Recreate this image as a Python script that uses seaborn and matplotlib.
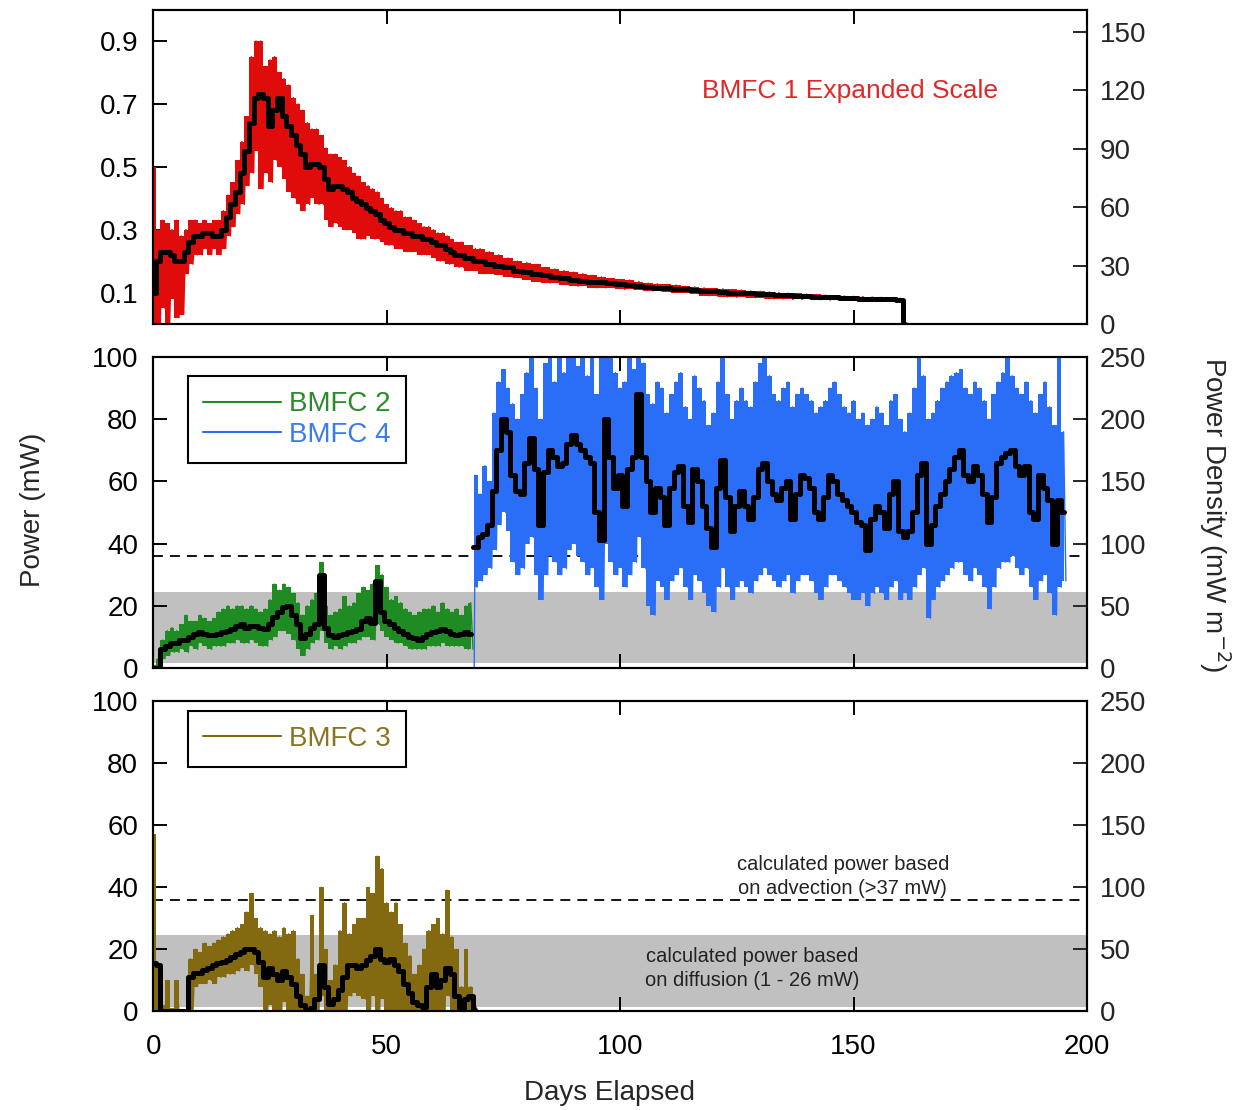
import numpy as np
import matplotlib.pyplot as plt
from matplotlib.lines import Line2D
import seaborn as sns

# ---------------- data ----------------
# BMFC 1 (top panel, mW) - daily to day 70, then every 2 days
bmfc1_day = list(range(0, 71)) + list(range(72, 161, 2)) + [161]
bmfc1_mean = [
    0.10, 0.20, 0.23, 0.23, 0.22, 0.20, 0.20, 0.23, 0.26, 0.28,
    0.28, 0.29, 0.29, 0.28, 0.28, 0.30, 0.34, 0.38, 0.42, 0.48,
    0.55, 0.64, 0.72, 0.73, 0.72, 0.63, 0.68, 0.72, 0.66, 0.63,
    0.60, 0.57, 0.54, 0.50, 0.51, 0.51, 0.50, 0.46, 0.43, 0.44,
    0.44, 0.43, 0.42, 0.40, 0.39, 0.38, 0.37, 0.36, 0.35, 0.33,
    0.32, 0.31, 0.30, 0.30, 0.29, 0.29, 0.28, 0.28, 0.27, 0.27,
    0.26, 0.25, 0.25, 0.24, 0.23, 0.22, 0.22, 0.21, 0.21, 0.20,
    0.20,
    0.19, 0.185, 0.18, 0.17, 0.165, 0.16, 0.155, 0.15, 0.145, 0.14,
    0.138, 0.135, 0.132, 0.13, 0.127, 0.125, 0.12, 0.118, 0.116, 0.114,
    0.112, 0.11, 0.108, 0.106, 0.104, 0.102, 0.10, 0.099, 0.097, 0.096,
    0.094, 0.093, 0.091, 0.09, 0.088, 0.087, 0.086, 0.085, 0.083, 0.082,
    0.081, 0.08, 0.079, 0.078, 0.077,
    0.0]
bmfc1_lo = [
    0.00, 0.00, 0.05, 0.00, 0.08, 0.02, 0.03, 0.16, 0.19, 0.22,
    0.22, 0.24, 0.22, 0.24, 0.22, 0.24, 0.28, 0.31, 0.35, 0.38,
    0.44, 0.48, 0.55, 0.43, 0.48, 0.45, 0.52, 0.50, 0.46, 0.42,
    0.40, 0.38, 0.36, 0.38, 0.40, 0.38, 0.38, 0.33, 0.31, 0.32,
    0.31, 0.30, 0.30, 0.29, 0.27, 0.27, 0.28, 0.27, 0.27, 0.26,
    0.25, 0.25, 0.24, 0.24, 0.23, 0.23, 0.23, 0.22, 0.22, 0.22,
    0.21, 0.20, 0.20, 0.19, 0.19, 0.18, 0.18, 0.17, 0.17, 0.17,
    0.16,
    0.16, 0.155, 0.15, 0.145, 0.14, 0.135, 0.13, 0.13, 0.125, 0.12,
    0.12, 0.115, 0.115, 0.115, 0.11, 0.11, 0.108, 0.105, 0.104, 0.102,
    0.10, 0.098, 0.095, 0.09, 0.088, 0.086, 0.085, 0.085, 0.083, 0.082,
    0.08, 0.08, 0.078, 0.078, 0.078, 0.077, 0.076, 0.076, 0.075, 0.074,
    0.073, 0.072, 0.072, 0.071, 0.07,
    0.0]
bmfc1_hi = [
    0.50, 0.30, 0.33, 0.32, 0.30, 0.33, 0.28, 0.30, 0.33, 0.33,
    0.32, 0.33, 0.32, 0.33, 0.33, 0.36, 0.41, 0.45, 0.52, 0.58,
    0.66, 0.85, 0.90, 0.90, 0.82, 0.84, 0.85, 0.80, 0.78, 0.76,
    0.72, 0.70, 0.68, 0.64, 0.62, 0.62, 0.60, 0.56, 0.54, 0.54,
    0.53, 0.52, 0.50, 0.48, 0.47, 0.45, 0.44, 0.43, 0.42, 0.40,
    0.38, 0.37, 0.36, 0.36, 0.34, 0.34, 0.33, 0.32, 0.31, 0.31,
    0.30, 0.29, 0.29, 0.28, 0.27, 0.26, 0.26, 0.25, 0.25, 0.24,
    0.24,
    0.23, 0.22, 0.21, 0.20, 0.195, 0.19, 0.18, 0.175, 0.17, 0.165,
    0.16, 0.155, 0.15, 0.145, 0.142, 0.14, 0.135, 0.13, 0.128, 0.126,
    0.124, 0.12, 0.118, 0.115, 0.113, 0.112, 0.11, 0.108, 0.105, 0.104,
    0.102, 0.10, 0.098, 0.097, 0.095, 0.094, 0.092, 0.09, 0.089, 0.088,
    0.087, 0.086, 0.085, 0.084, 0.082,
    0.0]

# BMFC 2 (middle panel, mW), days 0-68
bmfc2_day = list(range(0, 69))
bmfc2_mean = [
    0, 0, 6, 7, 8, 8, 9, 9, 10, 11,
    11.5, 11, 10.5, 10.5, 11, 11.5, 12, 12.5, 13.5, 14,
    13, 13.5, 13.5, 13, 12.5, 14, 16.5, 18, 19.5, 20,
    17, 14, 9.5, 11, 13, 14, 30, 13, 10.5, 10,
    10.5, 11, 11.5, 12, 12.5, 15, 16, 14.5, 28, 18,
    15, 14, 13, 12, 11, 10, 9.5, 9, 10, 11,
    11.5, 12, 12.5, 12, 11, 10.5, 11, 11.5, 11]
bmfc2_lo = [
    0, 0, 3, 4, 5, 5, 6, 5, 7, 6,
    8, 7, 6, 7, 7, 7, 8, 8, 9, 8,
    8, 9, 8, 7, 7, 9, 10, 12, 12, 11,
    9, 6, 4, 6, 8, 9, 12, 8, 6, 7,
    6, 7, 8, 8, 9, 10, 10, 9, 14, 12,
    10, 9, 8, 8, 7, 6, 6, 6, 6, 7,
    7, 7, 8, 7, 7, 7, 7, 6, 6]
bmfc2_hi = [
    1, 3, 9, 12, 13, 12, 14, 17, 15, 15,
    17, 16, 15, 16, 18, 19, 20, 19, 20, 20,
    19, 20, 19, 18, 19, 22, 27, 25, 27, 26,
    24, 21, 17, 20, 22, 24, 34, 20, 17, 18,
    19, 23, 20, 21, 24, 26, 25, 27, 33, 30,
    26, 22, 23, 21, 19, 18, 17, 18, 19, 19,
    20, 18, 21, 19, 18, 19, 17, 20, 21]

# BMFC 4 (middle panel, mW), days 68.5-195
bmfc4_day = [68.5] + list(range(69, 196))
bmfc4_mean = [39,
    39, 42, 43, 46, 57, 70, 80, 76, 62, 57,
    56, 66, 74, 64, 46, 63, 70, 68, 65, 66,
    72, 75, 72, 70, 68, 66, 50, 41, 80, 68,
    58, 62, 52, 64, 68, 88, 68, 60, 50, 58,
    55, 46, 58, 63, 65, 52, 47, 64, 60, 52,
    45, 39, 58, 67, 55, 44, 52, 57, 52, 48,
    55, 64, 66, 60, 56, 54, 58, 60, 48, 56,
    62, 61, 58, 50, 48, 55, 62, 60, 56, 54,
    52, 50, 47, 46, 38, 48, 52, 50, 45, 56,
    60, 44, 42, 44, 50, 62, 66, 40, 46, 52,
    56, 60, 64, 68, 70, 62, 60, 65, 62, 56,
    47, 55, 66, 68, 69, 70, 65, 62, 65, 50,
    48, 62, 58, 54, 40, 54, 50]
bmfc4_lo = [0,
    26, 28, 30, 32, 38, 46, 50, 44, 34, 30,
    32, 40, 42, 30, 22, 30, 36, 34, 30, 32,
    38, 40, 36, 34, 30, 32, 26, 22, 40, 34,
    30, 32, 26, 30, 34, 42, 32, 20, 17, 28,
    26, 22, 28, 30, 32, 26, 22, 30, 28, 24,
    20, 18, 26, 32, 26, 22, 26, 28, 26, 24,
    28, 30, 32, 30, 28, 26, 28, 30, 24, 28,
    30, 30, 28, 24, 22, 26, 30, 30, 28, 26,
    24, 22, 22, 24, 20, 24, 26, 24, 22, 26,
    28, 22, 24, 22, 26, 30, 32, 16, 22, 26,
    28, 30, 32, 34, 34, 30, 28, 32, 30, 26,
    19, 26, 32, 34, 34, 36, 32, 30, 32, 26,
    22, 28, 30, 24, 17, 26, 28]
bmfc4_hi = [0,
    62, 56, 65, 60, 82, 92, 96, 90, 85, 80,
    88, 95, 100, 90, 80, 98, 100, 92, 100, 95,
    100, 100, 97, 100, 94, 100, 88, 100, 100, 100,
    95, 90, 92, 100, 96, 100, 98, 88, 85, 92,
    90, 82, 88, 92, 95, 84, 80, 94, 90, 86,
    78, 82, 92, 100, 88, 80, 86, 90, 86, 84,
    92, 98, 100, 94, 88, 86, 90, 92, 84, 88,
    90, 88, 86, 82, 84, 86, 90, 92, 88, 84,
    82, 86, 80, 82, 78, 80, 84, 82, 78, 86,
    88, 80, 76, 82, 90, 100, 94, 80, 82, 86,
    90, 92, 94, 95, 96, 90, 88, 92, 90, 86,
    80, 88, 92, 95, 100, 94, 90, 88, 92, 86,
    82, 88, 92, 84, 78, 100, 76]

# BMFC 3 (bottom panel, mW), days 0-69
bmfc3_day = list(range(0, 70))
bmfc3_mean = [
    15.5, 15, 0, 0, 0, 0, 0, 0, 11, 12.5,
    12.5, 13.5, 14, 15, 15.5, 16, 16.5, 17.5, 18.5, 19,
    20, 20, 19, 16, 11, 14, 12, 10, 13, 11,
    9, 5, 2, 0.5, 1, 4, 15, 8, 2.5, 4,
    7, 11, 15, 15, 14, 15, 16.5, 18, 20, 17,
    16, 17, 15, 13, 9, 6, 3, 2, 1.5, 8,
    12, 8, 10, 14, 12, 5, 1, 4, 5, 0.5]
bmfc3_lo = [
    0, 0, 0, 0, 0, 0, 0, 0, 0, 8,
    9, 9, 10, 9, 11, 11, 12, 12, 13, 14,
    13, 15, 12, 8, 0, 2, 0, 0, 3, 0,
    0, 0, 0, 0, 0, 0, 5, 0, 0, 0,
    0, 0, 5, 6, 5, 4, 0, 5, 0, 4,
    0, 0, 0, 0, 0, 0, 0, 0, 0, 0,
    0, 0, 0, 5, 0, 0, 0, 0, 0, 0]
bmfc3_hi = [
    57, 15, 2, 10, 1, 10, 0.5, 0.5, 17, 20,
    19, 22, 21, 22, 23, 24, 25, 26, 27, 28,
    32, 38, 30, 27, 26, 25, 26, 24, 27, 25,
    26, 17, 12, 5, 31, 12, 40, 20, 10, 15,
    26, 35, 25, 28, 30, 30, 40, 38, 50, 46,
    35, 32, 35, 28, 22, 18, 12, 15, 20, 26,
    28, 30, 25, 39, 24, 20, 8, 20, 8, 2]

diffusion_band = (1.5, 24.5)   # mW
advection_level = 36           # mW

RED, GREEN, BLUE, OLIVE = '#e00b0b', '#1e8c22', '#2a6ef8', '#83690f'
GREY = '#c0c0c0'

# ---------------- plotting ----------------
sns.set_theme(style='ticks')
plt.rcParams['font.family'] = ['Liberation Sans', 'DejaVu Sans']
plt.rcParams['axes.linewidth'] = 1.5
plt.rcParams['axes.edgecolor'] = 'black'


def zigzag(day, lo, hi):
    # raw record drawn as alternating max/min samples
    d = np.asarray(day, float)
    half = np.gradient(d) / 2
    xs = np.column_stack([d, d + half]).ravel()
    ys = np.column_stack([hi, lo]).ravel()
    return xs, ys


def draw_series(ax, day, mean, lo, hi, color):
    d = np.asarray(day, float)
    # daily min-max envelope of the raw record
    ax.fill_between(d, lo, hi, step='mid', color=color, lw=0, zorder=3)
    xs, ys = zigzag(day, lo, hi)
    sns.lineplot(x=xs, y=ys, ax=ax, color=color, lw=1.0,
                 estimator=None, sort=False, zorder=3)
    # running mean
    sns.lineplot(x=d, y=mean, ax=ax, color='black', lw=3.6,
                 estimator=None, sort=False, drawstyle='steps-mid', zorder=4)


def style(ax, left_lim, left_ticks, right_lim, right_ticks, show_x):
    ax.set_xlim(0, 200)
    ax.set_ylim(*left_lim)
    ax.set_yticks(left_ticks)
    ax.set_xticks([0, 50, 100, 150, 200])
    ax.tick_params(axis='both', direction='in', length=10, width=1.4,
                   labelsize=20, colors='black')
    ax.tick_params(axis='y', pad=11)
    ax.tick_params(axis='x', top=True, labelbottom=show_x, pad=16)
    ax.set_xlabel('')
    ax.set_ylabel('')
    tw = ax.twinx()
    tw.set_ylim(*right_lim)
    tw.set_yticks(right_ticks)
    tw.tick_params(axis='y', direction='in', length=10, width=1.4,
                   labelsize=20, pad=9)
    return tw


fig = plt.figure(figsize=(12.53, 11.10), dpi=100)
ax_top = fig.add_axes([0.12235, 0.70811, 0.74509, 0.28333])
ax_mid = fig.add_axes([0.12235, 0.39820, 0.74509, 0.28018])
ax_bot = fig.add_axes([0.12235, 0.08874, 0.74509, 0.28000])

# top panel
draw_series(ax_top, bmfc1_day, bmfc1_mean, bmfc1_lo, bmfc1_hi, RED)
style(ax_top, (0, 1.0), [0.1, 0.3, 0.5, 0.7, 0.9], (0, 161.5),
      [0, 30, 60, 90, 120, 150], False)
ax_top.set_yticklabels(['0.1', '0.3', '0.5', '0.7', '0.9'])
ax_top.text(149.3, 0.742, 'BMFC 1 Expanded Scale', color='#e02828',
            fontsize=19, ha='center', va='center')

# grey diffusion band and dashed advection level
for ax in (ax_mid, ax_bot):
    ax.axhspan(*diffusion_band, color=GREY, lw=0, zorder=0)
    ax.axhline(advection_level, color='black', lw=1.3,
               ls=(0, (5.5, 3.9)), zorder=2)

# middle panel
draw_series(ax_mid, bmfc2_day, bmfc2_mean, bmfc2_lo, bmfc2_hi, GREEN)
draw_series(ax_mid, bmfc4_day, bmfc4_mean, bmfc4_lo, bmfc4_hi, BLUE)
style(ax_mid, (0, 100), [0, 20, 40, 60, 80, 100], (0, 250),
      [0, 50, 100, 150, 200, 250], False)
leg = ax_mid.legend([Line2D([], [], color=GREEN, lw=1.5),
                     Line2D([], [], color=BLUE, lw=1.5)],
                    ['BMFC 2', 'BMFC 4'], loc='upper left',
                    bbox_to_anchor=(0.0368, 0.939), borderaxespad=0,
                    fontsize=20, frameon=True, fancybox=False,
                    edgecolor='black', framealpha=1, handlelength=2.8,
                    handletextpad=0.3, borderpad=0.55, labelspacing=0.17,
                    labelcolor=['#2b8a2b', '#3a7cf0'])
leg.get_frame().set_linewidth(1.5)

# bottom panel
draw_series(ax_bot, bmfc3_day, bmfc3_mean, bmfc3_lo, bmfc3_hi, OLIVE)
style(ax_bot, (0, 100), [0, 20, 40, 60, 80, 100], (0, 250),
      [0, 50, 100, 150, 200, 250], True)
leg = ax_bot.legend([Line2D([], [], color=OLIVE, lw=1.5)], ['BMFC 3'],
                    loc='upper left', bbox_to_anchor=(0.0368, 0.968),
                    borderaxespad=0, fontsize=20, frameon=True,
                    fancybox=False, edgecolor='black', framealpha=1,
                    handlelength=2.8, handletextpad=0.3, borderpad=0.55,
                    labelcolor=['#8a7420'])
leg.get_frame().set_linewidth(1.5)
ax_bot.text(147.7, 43.5, 'calculated power based\non advection (>37 mW)',
            fontsize=14.5, ha='center', va='center', linespacing=1.3,
            color='#222222')
ax_bot.text(128.4, 13.9, 'calculated power based\non diffusion (1 - 26 mW)',
            fontsize=14.5, ha='center', va='center', linespacing=1.3,
            color='#222222')

# axis titles
fig.text(33 / 1253, 1 - 510 / 1110, 'Power (mW)', rotation=90,
         ha='center', va='center', fontsize=20)
fig.text(1215 / 1253, 1 - 515 / 1110, r'Power Density (mW m$^{-2}$)',
         rotation=-90, ha='center', va='center', fontsize=20)
fig.text(610 / 1253, 1 - 1093 / 1110, 'Days Elapsed', ha='center',
         va='center', fontsize=20)

fig.savefig('out.png', dpi=100)
